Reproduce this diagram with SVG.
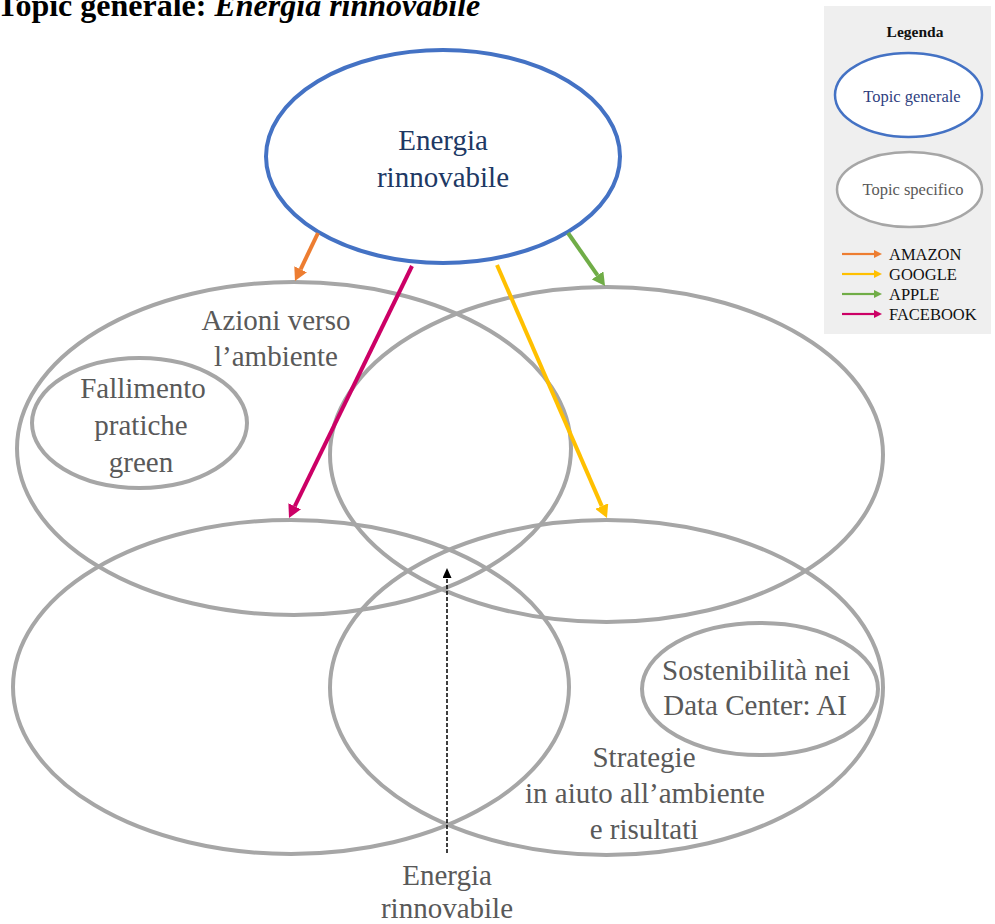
<svg xmlns="http://www.w3.org/2000/svg" width="995" height="924" viewBox="0 0 995 924">
<style>
.topic{fill:none;stroke:#4472c4;stroke-width:4}
.spec{fill:none;stroke:#a6a6a6;stroke-width:4}
.t{font-family:"Liberation Serif","Times New Roman",serif;text-anchor:middle}
.tb{fill:#203864;font-size:29px}
.tg{fill:#595959;font-size:29px}
.lg{font-family:"Liberation Serif","Times New Roman",serif;font-size:16.5px;fill:#111}
.arr{stroke-width:4;fill:none}
.larr{stroke-width:2.2;fill:none}
</style>
<defs>
<marker id="mO" markerUnits="userSpaceOnUse" viewBox="0 0 13 14" refX="0" refY="7" markerWidth="13" markerHeight="14" orient="auto"><path d="M0,0 L13,7 L0,14 z" fill="#ed7d31"/></marker>
<marker id="mY" markerUnits="userSpaceOnUse" viewBox="0 0 13 14" refX="0" refY="7" markerWidth="13" markerHeight="14" orient="auto"><path d="M0,0 L13,7 L0,14 z" fill="#ffc000"/></marker>
<marker id="mG" markerUnits="userSpaceOnUse" viewBox="0 0 13 14" refX="0" refY="7" markerWidth="13" markerHeight="14" orient="auto"><path d="M0,0 L13,7 L0,14 z" fill="#70ad47"/></marker>
<marker id="mF" markerUnits="userSpaceOnUse" viewBox="0 0 13 14" refX="0" refY="7" markerWidth="13" markerHeight="14" orient="auto"><path d="M0,0 L13,7 L0,14 z" fill="#cc0066"/></marker>
<marker id="mK" markerUnits="userSpaceOnUse" viewBox="0 0 10 9" refX="0" refY="4.5" markerWidth="10" markerHeight="9" orient="auto"><path d="M0,0 L10,4.5 L0,9 z" fill="#000"/></marker>
<marker id="lO" markerUnits="userSpaceOnUse" viewBox="0 0 8 8" refX="0" refY="4" markerWidth="8" markerHeight="8" orient="auto"><path d="M0,0 L8,4 L0,8 z" fill="#ed7d31"/></marker>
<marker id="lY" markerUnits="userSpaceOnUse" viewBox="0 0 8 8" refX="0" refY="4" markerWidth="8" markerHeight="8" orient="auto"><path d="M0,0 L8,4 L0,8 z" fill="#ffc000"/></marker>
<marker id="lG" markerUnits="userSpaceOnUse" viewBox="0 0 8 8" refX="0" refY="4" markerWidth="8" markerHeight="8" orient="auto"><path d="M0,0 L8,4 L0,8 z" fill="#70ad47"/></marker>
<marker id="lF" markerUnits="userSpaceOnUse" viewBox="0 0 8 8" refX="0" refY="4" markerWidth="8" markerHeight="8" orient="auto"><path d="M0,0 L8,4 L0,8 z" fill="#cc0066"/></marker>
</defs>
<rect width="995" height="924" fill="#fff"/>

<text x="-3" y="16" font-family="'Liberation Serif','Times New Roman',serif" font-size="32" font-weight="bold" fill="#000">Topic generale: <tspan font-style="italic">Energia rinnovabile</tspan></text>

<g id="node-energia">
<ellipse class="topic" cx="443" cy="156.5" rx="177" ry="106.5"/>
<text class="t tb" x="443" y="150">Energia</text>
<text class="t tb" x="443" y="187">rinnovabile</text>
</g>

<g id="node-azioni">
<ellipse class="spec" cx="294" cy="448.5" rx="277" ry="166.5"/>
<text class="t tg" x="276" y="330">Azioni verso</text>
<text class="t tg" x="276" y="366">l’ambiente</text>
</g>

<g id="node-fallimento">
<ellipse class="spec" cx="139.5" cy="423" rx="107.5" ry="65"/>
<text class="t tg" x="143" y="398">Fallimento</text>
<text class="t tg" x="141" y="435">pratiche</text>
<text class="t tg" x="141" y="472">green</text>
</g>

<g id="node-topright">
<ellipse class="spec" cx="606.5" cy="454.5" rx="276.5" ry="167.5"/>
</g>

<g id="node-bottomleft">
<ellipse class="spec" cx="291" cy="687" rx="278" ry="167"/>
</g>

<g id="node-strategie">
<ellipse class="spec" cx="606.5" cy="687.5" rx="276.5" ry="167.5"/>
<text class="t tg" x="644" y="767">Strategie</text>
<text class="t tg" x="645" y="803">in aiuto all’ambiente</text>
<text class="t tg" x="644" y="839">e risultati</text>
</g>

<g id="node-sostenibilita">
<ellipse class="spec" cx="760" cy="689" rx="118" ry="66"/>
<text class="t tg" x="756" y="680" textLength="188" lengthAdjust="spacingAndGlyphs">Sostenibilità nei</text>
<text class="t tg" x="755" y="715">Data Center: AI</text>
</g>

<g id="node-energia-bottom">
<text class="t tg" x="447" y="885">Energia</text>
<text class="t tg" x="447" y="918">rinnovabile</text>
</g>

<g id="connectors">
<line class="arr" x1="318" y1="233" x2="300.6" y2="269.3" stroke="#ed7d31" marker-end="url(#mO)"/>
<line class="arr" x1="568" y1="233" x2="597.6" y2="275.3" stroke="#70ad47" marker-end="url(#mG)"/>
<line class="arr" x1="412" y1="266" x2="294.7" y2="506.3" stroke="#cc0066" marker-end="url(#mF)"/>
<line class="arr" x1="497" y1="265" x2="601.8" y2="506.1" stroke="#ffc000" marker-end="url(#mY)"/>
<line x1="447" y1="853" x2="447" y2="578" stroke="#000" stroke-width="1.5" stroke-dasharray="4 2" marker-end="url(#mK)"/>
</g>

<g id="legend">
<rect x="824" y="6" width="167" height="328" fill="#efefef"/>
<text x="915" y="37" font-family="'Liberation Serif','Times New Roman',serif" font-size="15.5" font-weight="bold" text-anchor="middle" fill="#111">Legenda</text>
<ellipse cx="908.5" cy="95" rx="73.5" ry="42" fill="#fff" stroke="#4472c4" stroke-width="2.5"/>
<text x="912" y="102" font-family="'Liberation Serif','Times New Roman',serif" font-size="16.5" text-anchor="middle" fill="#2f3f7f">Topic generale</text>
<ellipse cx="909.5" cy="189.5" rx="72.5" ry="37.5" fill="#fff" stroke="#a6a6a6" stroke-width="2.5"/>
<text x="913" y="195" font-family="'Liberation Serif','Times New Roman',serif" font-size="16.5" text-anchor="middle" fill="#595959">Topic specifico</text>
<line class="larr" x1="842" y1="254" x2="874" y2="254" stroke="#ed7d31" marker-end="url(#lO)"/>
<line class="larr" x1="842" y1="274" x2="874" y2="274" stroke="#ffc000" marker-end="url(#lY)"/>
<line class="larr" x1="842" y1="294" x2="874" y2="294" stroke="#70ad47" marker-end="url(#lG)"/>
<line class="larr" x1="842" y1="314" x2="874" y2="314" stroke="#cc0066" marker-end="url(#lF)"/>
<text class="lg" x="889" y="260">AMAZON</text>
<text class="lg" x="889" y="280">GOOGLE</text>
<text class="lg" x="889" y="300">APPLE</text>
<text class="lg" x="889" y="320">FACEBOOK</text>
</g>
</svg>
